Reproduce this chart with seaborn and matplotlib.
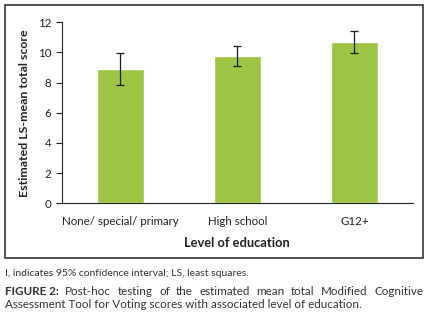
import matplotlib
matplotlib.use("Agg")
import matplotlib.pyplot as plt
import seaborn as sns
import pandas as pd
from matplotlib.patches import Rectangle

# values
education = ["None/ special/ primary", "High school", "G12+"]
ls_mean = [8.88, 9.78, 10.68]
ci_half = [1.07, 0.66, 0.73]
y_ticks = [0, 2, 4, 6, 8, 10, 12]

footnote = "I, indicates 95% confidence interval; LS, least squares."
caption_head = "FIGURE 2:"
caption_line1 = "Post-hoc testing of the estimated mean total Modified Cognitive"
caption_line2 = "Assessment Tool for Voting scores with associated level of education."

sns.set_style("white")
plt.rcParams["font.family"] = ["Lato", "DejaVu Sans"]

df = pd.DataFrame({"education": education, "mean": ls_mean})

fig = plt.figure(figsize=(4.36, 3.23), dpi=100)
ax = fig.add_axes([0.142, 0.3706, 0.8046, 0.5604])

sns.barplot(data=df, x="education", y="mean", color="#9dc543", width=0.4,
            saturation=1, ax=ax)
ax.errorbar(range(len(ls_mean)), ls_mean, yerr=ci_half, fmt="none",
            ecolor="#1a1a1a", elinewidth=0.9, capsize=3.2, capthick=0.9)

ax.set_ylim(0, 12)
ax.set_yticks(y_ticks)
ax.set_xlim(-0.5, 2.5)
ax.set_xticks([-0.5, 0.5, 1.5, 2.5], minor=True)
ax.tick_params(axis="x", which="major", length=0, pad=9, labelsize=8.3, colors="#222222")
ax.tick_params(axis="x", which="minor", length=5, width=0.8, color="#222222")
ax.tick_params(axis="y", length=4, width=0.8, color="#222222", labelsize=8.3,
               labelcolor="#222222", left=True)
ax.spines["top"].set_visible(False)
ax.spines["right"].set_visible(False)
for s in ["left", "bottom"]:
    ax.spines[s].set_color("#222222")
    ax.spines[s].set_linewidth(0.8)

ax.set_xlabel("Level of education", fontsize=9.3, fontweight="bold", color="#222222", labelpad=7)
ax.set_ylabel("Estimated LS-mean total score", fontsize=8.9, fontweight="bold", color="#222222",
              labelpad=6)

# box around the chart
fig.patches.append(Rectangle((5 / 436, 1 - 258 / 323), 418 / 436, 253 / 323,
                             transform=fig.transFigure, fill=False,
                             edgecolor="#222222", linewidth=1.1))

fig.text(5 / 436, 1 - 273 / 323, footnote, fontsize=7.5, color="#333333", va="center")

# caption, first line justified to the box width
renderer = fig.canvas.get_renderer()
words = [(caption_head, "bold")] + [(w, "normal") for w in caption_line1.split()]
left, right = 5 / 436, 423 / 436
y1 = 1 - 291.5 / 323
texts = []
total = 0
for w, weight in words:
    t = fig.text(0, y1, w, fontsize=8.4, fontweight=weight, color="#333333", va="center")
    bb = t.get_window_extent(renderer)
    texts.append(t)
    total += bb.width / fig.bbox.width
gap = (right - left - total) / (len(words) - 1)
x = left
for t in texts:
    t.set_x(x)
    x += t.get_window_extent(renderer).width / fig.bbox.width + gap

fig.text(5 / 436, 1 - 304.5 / 323, caption_line2, fontsize=8.4, color="#333333", va="center")

fig.savefig("out.png", dpi=100)
